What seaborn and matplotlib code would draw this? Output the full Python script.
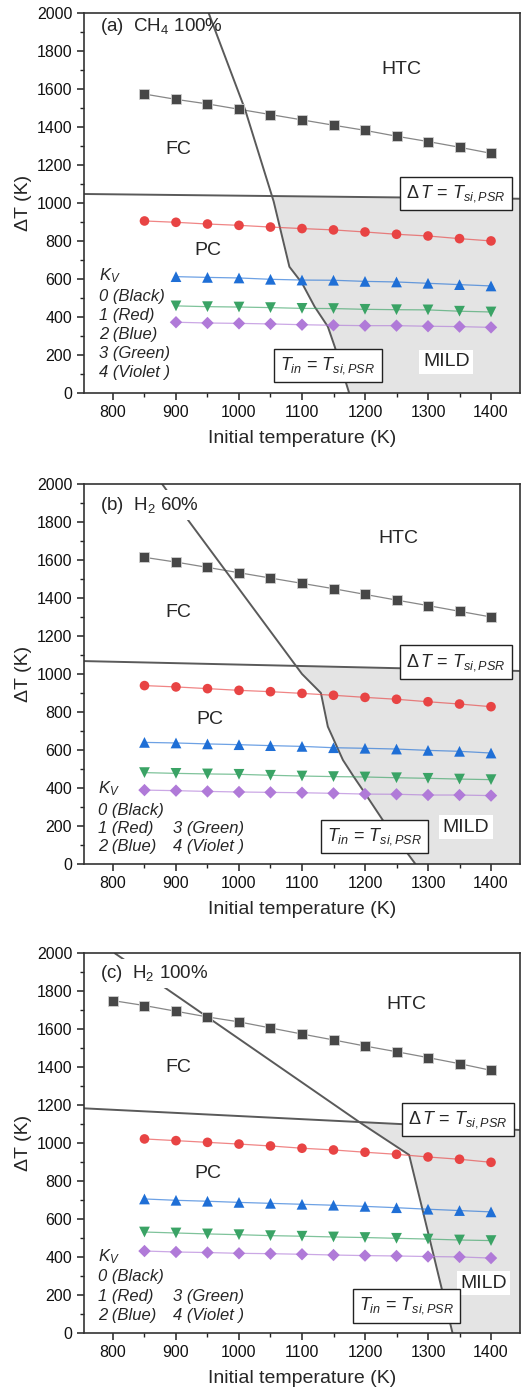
import numpy as np
import pandas as pd
import matplotlib
matplotlib.use("Agg")
import matplotlib.pyplot as plt
import seaborn as sns

# ---------------- data ----------------
x_850 = [850, 900, 950, 1000, 1050, 1100, 1150, 1200, 1250, 1300, 1350, 1400]
x_900 = [900, 950, 1000, 1050, 1100, 1150, 1200, 1250, 1300, 1350, 1400]
x_800 = [800, 850, 900, 950, 1000, 1050, 1100, 1150, 1200, 1250, 1300, 1350, 1400]

# panel (a) CH4 100%
a_black = [1575, 1547, 1523, 1495, 1467, 1439, 1411, 1384, 1353, 1325, 1295, 1263]
a_red = [907, 900, 891, 884, 875, 867, 860, 849, 837, 828, 814, 802]
a_blue = [614, 610, 607, 600, 596, 595, 589, 586, 579, 572, 565]
a_green = [460, 456, 454, 451, 447, 446, 442, 440, 439, 432, 428]
a_violet = [374, 370, 368, 365, 361, 358, 356, 356, 353, 351, 347]
a_tin_x = [952, 1010, 1055, 1080, 1100, 1120, 1141, 1152, 1175]
a_tin_y = [2000, 1490, 1010, 666, 580, 456, 351, 245, 0]
a_dt_y = [1049, 1024]

# panel (b) H2 60%
b_black = [1614, 1589, 1561, 1533, 1505, 1477, 1449, 1419, 1389, 1360, 1330, 1300]
b_red = [939, 932, 923, 914, 907, 898, 888, 877, 867, 854, 842, 828]
b_blue = [640, 637, 632, 628, 623, 619, 612, 609, 605, 598, 593, 584]
b_green = [481, 477, 474, 472, 467, 463, 460, 458, 454, 451, 447, 444]
b_violet = [389, 386, 382, 379, 377, 375, 372, 368, 367, 363, 363, 360]
b_tin_x = [878, 921, 1100, 1130, 1141, 1165, 1182, 1200, 1228, 1280]
b_tin_y = [2000, 1802, 1000, 900, 723, 547, 460, 372, 232, 0]
b_dt_y = [1068, 1016]

# panel (c) H2 100%
c_black = [1751, 1725, 1695, 1665, 1639, 1607, 1575, 1544, 1512, 1482, 1451, 1419, 1384]
c_red = [1023, 1014, 1005, 996, 986, 974, 965, 953, 942, 928, 916, 900]
c_blue = [707, 700, 695, 689, 684, 679, 674, 668, 661, 653, 646, 639]
c_green = [533, 528, 523, 519, 514, 511, 507, 504, 500, 496, 491, 488]
c_violet = [433, 428, 425, 421, 419, 416, 412, 409, 407, 404, 402, 396]
c_tin_x = [803, 889, 1194, 1270, 1303, 1339]
c_tin_y = [2000, 1804, 1105, 939, 491, 0]
c_dt_y = [1184, 1070]

panel_titles = ["(a)  CH$_4$ 100%", "(b)  H$_2$ 60%", "(c)  H$_2$ 100%"]
legend_rows_a = ["$K_V$", "0 (Black)", "1 (Red)", "2 (Blue)", "3 (Green)", "4 (Violet )"]
legend_rows_bc = ["$K_V$", "0 (Black)", "1 (Red)", "2 (Blue)"]
legend_col2_bc = ["3 (Green)", "4 (Violet )"]

XLIM = (754, 1446)
YLIM = (0, 2000)

# ---------------- style ----------------
sns.set_style("ticks")
plt.rcParams['font.family'] = ['Liberation Sans', 'DejaVu Sans']
plt.rcParams['mathtext.fontset'] = 'custom'
plt.rcParams['mathtext.rm'] = 'Liberation Sans'
plt.rcParams['mathtext.it'] = 'Liberation Sans:italic'
plt.rcParams['mathtext.bf'] = 'Liberation Sans:bold'

COLORS = {"black": "#474747", "red": "#e84444", "blue": "#1f6fd6",
          "green": "#3aa365", "violet": "#b07ad8"}
MARKERS = {"black": "s", "red": "o", "blue": "^", "green": "v", "violet": "D"}
SIZES = {"black": 42, "red": 48, "blue": 60, "green": 60, "violet": 40}

fig = plt.figure(figsize=(5.25, 13.93), dpi=100)
W, H = 525.0, 1393.0
tops = [13.3, 484.0, 953.3]
axes = []
for t in tops:
    ax = fig.add_axes([84 / W, 1 - (t + 380) / H, 436 / W, 380 / H])
    axes.append(ax)

panels = [
    dict(series=[("black", x_850, a_black), ("red", x_850, a_red), ("blue", x_900, a_blue),
                 ("green", x_900, a_green), ("violet", x_900, a_violet)],
         tin=(a_tin_x, a_tin_y), dt=a_dt_y, title_y=1930, title_box=False,
         htc=(1257, 1702), fc=(903, 1281), pc=(951, 754), mild=(1329, 166),
         dtbox=(1344, 1051), tinbox=(1141, 147), legend="a"),
    dict(series=[("black", x_850, b_black), ("red", x_850, b_red), ("blue", x_850, b_blue),
                 ("green", x_850, b_green), ("violet", x_850, b_violet)],
         tin=(b_tin_x, b_tin_y), dt=b_dt_y, title_y=1889, title_box=True,
         htc=(1253, 1711), fc=(903, 1324), pc=(953, 761), mild=(1360, 193),
         dtbox=(1344, 1062), tinbox=(1215, 145), legend="b"),
    dict(series=[("black", x_800, c_black), ("red", x_850, c_red), ("blue", x_850, c_blue),
                 ("green", x_850, c_green), ("violet", x_850, c_violet)],
         tin=(c_tin_x, c_tin_y), dt=c_dt_y, title_y=1895, title_box=True,
         htc=(1266, 1732), fc=(903, 1398), pc=(951, 842), mild=(1388, 263),
         dtbox=(1347, 1125), tinbox=(1266, 145), legend="c"),
]


def shade_polygon(tin_x, tin_y, dt_y):
    tx = np.asarray(tin_x, float)
    ty = np.asarray(tin_y, float)
    def dt(x):
        return dt_y[0] + (dt_y[1] - dt_y[0]) * (x - XLIM[0]) / (XLIM[1] - XLIM[0])
    px, py, idx = None, None, None
    for i in range(len(tx) - 1):
        f0 = ty[i] - dt(tx[i])
        f1 = ty[i + 1] - dt(tx[i + 1])
        if f0 >= 0 and f1 < 0:
            s = f0 / (f0 - f1)
            px = tx[i] + s * (tx[i + 1] - tx[i])
            py = ty[i] + s * (ty[i + 1] - ty[i])
            idx = i + 1
            break
    xs = [px] + list(tx[idx:]) + [XLIM[1], XLIM[1]]
    ys = [py] + list(ty[idx:]) + [0, dt(XLIM[1])]
    return xs, ys


for ax, p, title in zip(axes, panels, panel_titles):
    sx, sy = shade_polygon(p["tin"][0], p["tin"][1], p["dt"])
    ax.fill(sx, sy, color="#e4e4e4", lw=0, zorder=0)

    ax.plot(list(XLIM), p["dt"], color="#5a5a5a", lw=1.4, zorder=2)
    ax.plot(p["tin"][0], p["tin"][1], color="#5a5a5a", lw=1.4, zorder=2)

    for name, xs, ys in p["series"]:
        df = pd.DataFrame({"x": xs, "y": ys})
        sns.lineplot(data=df, x="x", y="y", ax=ax, color=COLORS[name], lw=0.9,
                     alpha=0.65, zorder=3, legend=False)
        ec = "#d0d0d0" if name == "black" else "none"
        sns.scatterplot(data=df, x="x", y="y", ax=ax, marker=MARKERS[name],
                        s=SIZES[name], color=COLORS[name], edgecolor=ec,
                        linewidth=0.6, zorder=4, legend=False)

    ax.set_xlim(*XLIM)
    ax.set_ylim(*YLIM)
    ax.set_xticks(np.arange(800, 1401, 100))
    ax.set_xticks(np.arange(800, 1401, 50), minor=True)
    ax.set_yticks(np.arange(0, 2001, 200))
    ax.set_yticks(np.arange(0, 2001, 100), minor=True)
    ax.tick_params(axis="both", which="major", direction="out", length=5, width=1.1,
                   labelsize=11.5, color="#222222", labelcolor="#111111")
    ax.tick_params(axis="both", which="minor", direction="out", length=3, width=1.0,
                   color="#222222")
    ax.tick_params(top=False, right=False, which="both")
    for sp in ax.spines.values():
        sp.set_visible(True)
        sp.set_linewidth(1.2)
        sp.set_color("#333333")
    ax.set_xlabel("Initial temperature (K)", fontsize=14, labelpad=7)
    ax.set_ylabel("ΔT (K)", fontsize=14, labelpad=3)
    ax.grid(False)

    tkw = dict(fontsize=13.5, ha="left", va="center", zorder=6)
    if p["title_box"]:
        tkw["bbox"] = dict(facecolor="white", edgecolor="none", pad=3)
    ax.text(779, p["title_y"], title, **tkw)

    ax.text(*p["htc"], "HTC", fontsize=14, ha="center", va="center", zorder=6)
    ax.text(*p["fc"], "FC", fontsize=14, ha="center", va="center", zorder=6)
    ax.text(*p["pc"], "PC", fontsize=14, ha="center", va="center", zorder=6)
    ax.text(*p["mild"], "MILD", fontsize=14, ha="center", va="center", zorder=6,
            bbox=dict(facecolor="white", edgecolor="none", pad=2.5))

    boxkw = dict(boxstyle="square,pad=0.35", facecolor="white", edgecolor="#222222",
                 linewidth=1.0)
    ax.text(*p["dtbox"], r"$\Delta\,T$ = $T_{si,PSR}$", fontsize=13, ha="center",
            va="center", zorder=6, bbox=boxkw)
    ax.text(*p["tinbox"], r"$T_{in}$ = $T_{si,PSR}$", fontsize=13, ha="center",
            va="center", zorder=6, bbox=boxkw)

    lkw = dict(fontsize=12, ha="left", va="center", style="italic", zorder=6)
    if p["legend"] == "a":
        ys = [617, 509, 412, 307, 212, 112]
        for s, yy in zip(legend_rows_a, ys):
            ax.text(778, yy, s, **lkw)
    else:
        ys = [398, 284, 188, 91] if p["legend"] == "b" else [403, 298, 196, 96]
        for s, yy in zip(legend_rows_bc, ys):
            ax.text(777, yy, s, **lkw)
        for s, yy in zip(legend_col2_bc, ys[2:]):
            ax.text(896, yy, s, **lkw)

fig.savefig("out.png", dpi=100)
